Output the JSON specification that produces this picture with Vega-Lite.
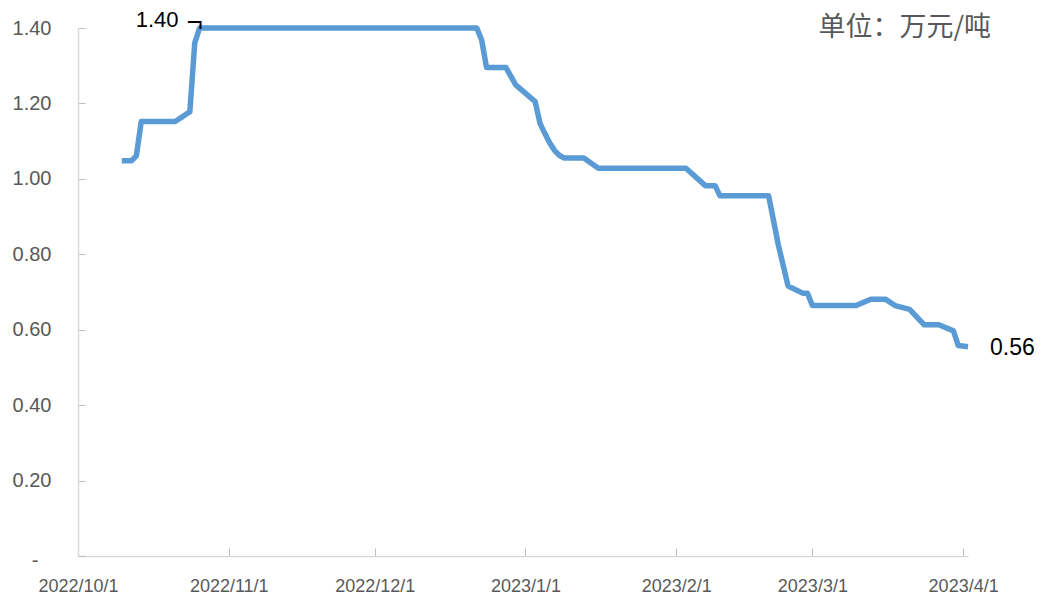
{
  "$schema": "https://vega.github.io/schema/vega-lite/v6.json",
  "width": 890,
  "height": 528,
  "autosize": {"type": "none"},
  "padding": {"left": 78, "top": 28, "right": 73, "bottom": 45},
  "background": "white",
  "config": {
    "view": {"stroke": null},
    "font": "Liberation Sans, Arial, sans-serif"
  },
  "datasets": {
    "price": [
      {"date": "2022-10-10", "value": 1.048},
      {"date": "2022-10-12", "value": 1.048},
      {"date": "2022-10-13", "value": 1.061},
      {"date": "2022-10-14", "value": 1.152},
      {"date": "2022-10-21", "value": 1.152},
      {"date": "2022-10-24", "value": 1.178},
      {"date": "2022-10-25", "value": 1.36},
      {"date": "2022-10-26", "value": 1.40},
      {"date": "2022-12-22", "value": 1.40},
      {"date": "2022-12-23", "value": 1.368},
      {"date": "2022-12-24", "value": 1.295},
      {"date": "2022-12-28", "value": 1.295},
      {"date": "2022-12-30", "value": 1.249},
      {"date": "2023-01-03", "value": 1.205},
      {"date": "2023-01-04", "value": 1.147},
      {"date": "2023-01-05", "value": 1.12},
      {"date": "2023-01-06", "value": 1.095},
      {"date": "2023-01-07", "value": 1.075},
      {"date": "2023-01-08", "value": 1.062},
      {"date": "2023-01-09", "value": 1.055},
      {"date": "2023-01-13", "value": 1.055},
      {"date": "2023-01-16", "value": 1.028},
      {"date": "2023-02-03", "value": 1.028},
      {"date": "2023-02-07", "value": 0.982},
      {"date": "2023-02-09", "value": 0.982},
      {"date": "2023-02-10", "value": 0.955},
      {"date": "2023-02-20", "value": 0.955},
      {"date": "2023-02-22", "value": 0.825},
      {"date": "2023-02-24", "value": 0.716},
      {"date": "2023-02-27", "value": 0.697},
      {"date": "2023-02-28", "value": 0.697},
      {"date": "2023-03-01", "value": 0.664},
      {"date": "2023-03-10", "value": 0.664},
      {"date": "2023-03-13", "value": 0.681},
      {"date": "2023-03-16", "value": 0.681},
      {"date": "2023-03-18", "value": 0.664},
      {"date": "2023-03-21", "value": 0.654},
      {"date": "2023-03-24", "value": 0.613},
      {"date": "2023-03-27", "value": 0.613},
      {"date": "2023-03-30", "value": 0.597},
      {"date": "2023-03-31", "value": 0.558},
      {"date": "2023-04-02", "value": 0.555}
    ]
  },
  "layer": [
    {
      "data": {"name": "price"},
      "mark": {"type": "line", "color": "#5B9BD5", "strokeWidth": 5.5, "strokeJoin": "round", "clip": false},
      "encoding": {
        "x": {
          "field": "date",
          "type": "temporal",
          "scale": {
            "type": "utc",
            "domain": [
              {"year": 2022, "month": 10, "date": 1, "utc": true},
              {"year": 2023, "month": 4, "date": 2, "utc": true}
            ],
            "nice": false
          },
          "axis": {
            "title": null,
            "grid": false,
            "labelExpr": "utcFormat(datum.value, '%Y/%-m/%-d')",
            "tickCount": {"interval": "month", "step": 1},
            "domainColor": "#D9D9D9",
            "domainWidth": 1.5,
            "tickColor": "#BFBFBF",
            "tickSize": -8,
            "tickWidth": 1,
            "labelPadding": 29,
            "labelColor": "#595959",
            "labelFontSize": 18,
            "labelAlign": "center",
            "labelFlush": false,
            "labelOverlap": false
          }
        },
        "y": {
          "field": "value",
          "type": "quantitative",
          "scale": {"domain": [0, 1.4], "nice": false, "zero": true},
          "axis": {
            "title": null,
            "grid": false,
            "values": [0, 0.2, 0.4, 0.6, 0.8, 1.0, 1.2, 1.4],
            "labelExpr": "datum.value === 0 ? '-' : format(datum.value, '.2f')",
            "domainColor": "#D9D9D9",
            "domainWidth": 1.5,
            "tickColor": "#BFBFBF",
            "tickSize": -7,
            "labelPadding": {"condition": {"test": "datum.value === 0", "value": 47}, "value": 34},
            "labelOffset": {"condition": {"test": "datum.value === 0", "value": 4}, "value": 0},
            "labelColor": "#595959",
            "labelFontSize": 20,
            "labelOverlap": false
          }
        }
      }
    },
    {
      "data": {"values": [{"date": "2022-10-26", "value": 1.40, "label": "1.40"}]},
      "mark": {"type": "text", "align": "right", "baseline": "middle", "dx": -21, "dy": -8, "fontSize": 22, "color": "#000000", "clip": false},
      "encoding": {
        "x": {"field": "date", "type": "temporal"},
        "y": {"field": "value", "type": "quantitative"},
        "text": {"field": "label"}
      }
    },
    {
      "data": {"values": [{"date": "2022-10-26", "value": 1.40, "label": "¬"}]},
      "mark": {"type": "text", "align": "left", "baseline": "alphabetic", "dx": -13, "dy": 3, "fontSize": 28, "color": "#000000", "clip": false},
      "encoding": {
        "x": {"field": "date", "type": "temporal"},
        "y": {"field": "value", "type": "quantitative"},
        "text": {"field": "label"}
      }
    },
    {
      "data": {"values": [{"date": "2023-04-02", "value": 0.555, "label": "0.56"}]},
      "mark": {"type": "text", "align": "left", "baseline": "middle", "dx": 22, "dy": 1, "fontSize": 23, "color": "#000000", "clip": false},
      "encoding": {
        "x": {"field": "date", "type": "temporal"},
        "y": {"field": "value", "type": "quantitative"},
        "text": {"field": "label"}
      }
    },
    {
      "data": {"values": [{"date": "2023-04-02", "value": 1.40, "label": "单位：万元/吨"}]},
      "mark": {"type": "text", "align": "right", "baseline": "middle", "dx": 23, "dy": 0, "fontSize": 27, "font": "Noto Sans CJK SC", "color": "#595959", "clip": false},
      "encoding": {
        "x": {"field": "date", "type": "temporal"},
        "y": {"field": "value", "type": "quantitative"},
        "text": {"field": "label"}
      }
    }
  ]
}
